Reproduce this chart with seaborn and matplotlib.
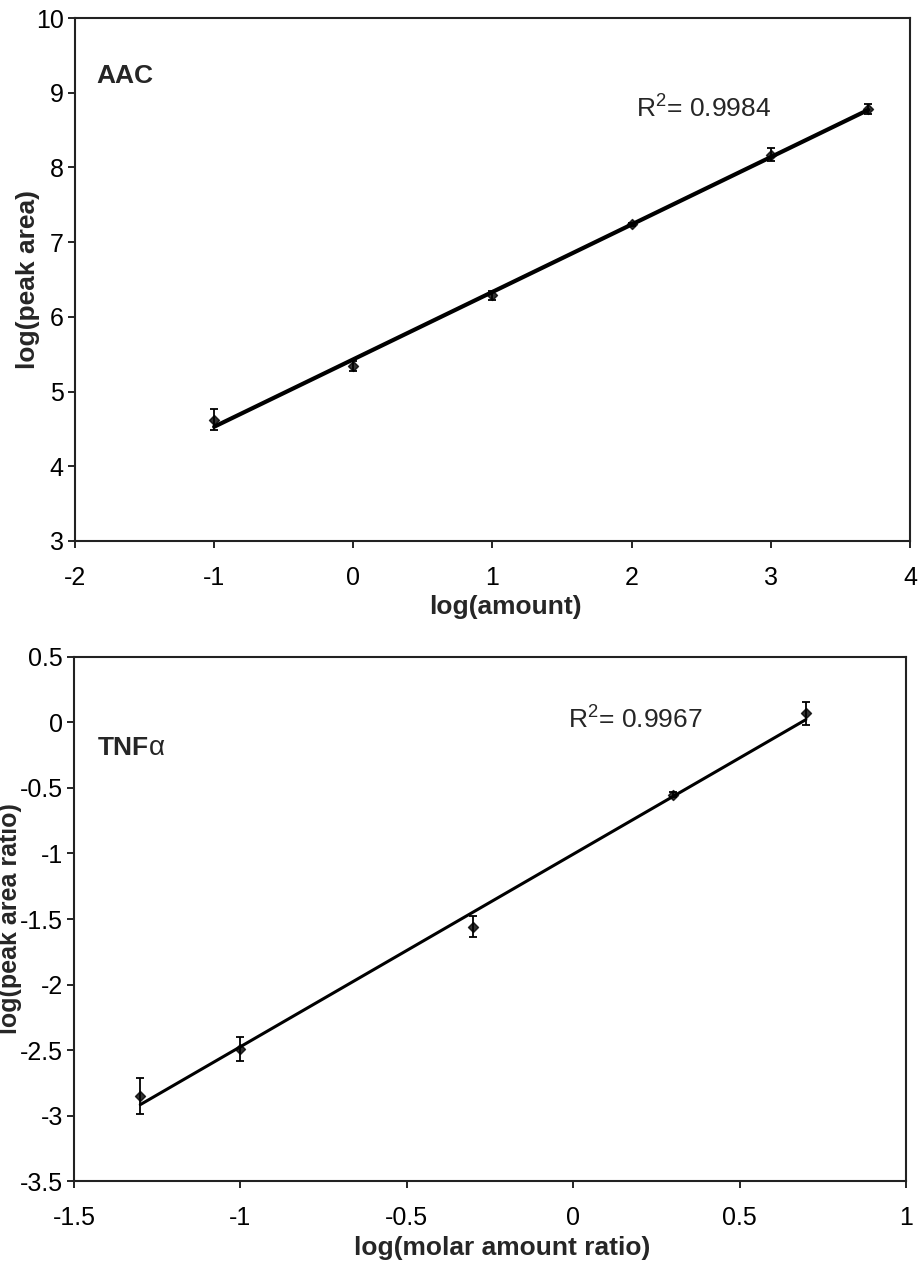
import numpy as np
import pandas as pd
import matplotlib
matplotlib.use("Agg")
import matplotlib.pyplot as plt
import seaborn as sns

# AAC calibration
aac_x = [-1, 0, 1, 2, 3, 3.7]
aac_y = [4.62, 5.34, 6.29, 7.24, 8.17, 8.78]
aac_err = [0.14, 0.07, 0.06, 0.02, 0.09, 0.07]
aac_xticks = [-2, -1, 0, 1, 2, 3, 4]
aac_yticks = [3, 4, 5, 6, 7, 8, 9, 10]

# TNFa calibration
tnf_x = [-1.301, -1.0, -0.301, 0.301, 0.699]
tnf_y = [-2.85, -2.49, -1.56, -0.55, 0.07]
tnf_err = [0.14, 0.09, 0.08, 0.02, 0.09]
tnf_xticks = [-1.5, -1, -0.5, 0, 0.5, 1]
tnf_xlabels = ["-1.5", "-1", "-0.5", "0", "0.5", "1"]
tnf_yticks = [-3.5, -3, -2.5, -2, -1.5, -1, -0.5, 0, 0.5]
tnf_ylabels = ["-3.5", "-3", "-2.5", "-2", "-1.5", "-1", "-0.5", "0", "0.5"]

sns.set_style("ticks")
plt.rcParams['font.family'] = ['Liberation Sans', 'DejaVu Sans']
plt.rcParams['mathtext.fontset'] = 'custom'
plt.rcParams['mathtext.rm'] = 'Liberation Sans'

TICK_FS = 18
LABEL_FS = 19


def draw_panel(ax, x, y, err, lw):
    df = pd.DataFrame({"x": x, "y": y})
    sns.regplot(data=df, x="x", y="y", ax=ax, ci=None, truncate=True,
                marker="D", color="black",
                scatter_kws={"s": 26, "zorder": 4},
                line_kws={"linewidth": lw, "color": "black", "zorder": 3})
    ax.errorbar(x, y, yerr=err, fmt="none", ecolor="black", elinewidth=1.3,
                capsize=3, capthick=1.3, zorder=5)


def style_axes(ax):
    for s in ax.spines.values():
        s.set_visible(True)
        s.set_linewidth(1.5)
        s.set_color("#222222")
    ax.tick_params(axis="both", direction="out", length=5, width=1.2,
                   labelsize=TICK_FS, colors="black")
    ax.tick_params(axis="x", pad=13)
    ax.tick_params(axis="y", pad=3)


fig = plt.figure(figsize=(9.22, 12.69), dpi=100)
ax1 = fig.add_axes([0.0813, 0.5737, 0.9057, 0.4121])
ax2 = fig.add_axes([0.0803, 0.0693, 0.9024, 0.4130])

# top panel
draw_panel(ax1, aac_x, aac_y, aac_err, 3)
ax1.set_xlim(-2, 4)
ax1.set_ylim(3, 10)
ax1.set_xticks(aac_xticks)
ax1.set_xticklabels([str(v) for v in aac_xticks])
ax1.set_yticks(aac_yticks)
ax1.set_yticklabels([str(v) for v in aac_yticks])
style_axes(ax1)
ax1.set_xlabel("log(amount)", fontsize=LABEL_FS, fontweight="bold")
ax1.set_ylabel("log(peak area)", fontsize=LABEL_FS, fontweight="bold")
ax1.xaxis.set_label_coords(0.515, -0.104)
ax1.yaxis.set_label_coords(-0.042, 0.5)
ax1.text(0.026, 0.89, "AAC", transform=ax1.transAxes, fontsize=LABEL_FS,
         fontweight="bold", va="center", ha="left")
ax1.text(0.672, 0.828, "R$^2$= 0.9984", transform=ax1.transAxes,
         fontsize=TICK_FS + 1, va="center", ha="left")

# bottom panel
draw_panel(ax2, tnf_x, tnf_y, tnf_err, 2.2)
ax2.set_xlim(-1.5, 1)
ax2.set_ylim(-3.5, 0.5)
ax2.set_xticks(tnf_xticks)
ax2.set_xticklabels(tnf_xlabels)
ax2.set_yticks(tnf_yticks)
ax2.set_yticklabels(tnf_ylabels)
style_axes(ax2)
ax2.set_xlabel("log(molar amount ratio)", fontsize=LABEL_FS, fontweight="bold")
ax2.set_ylabel("log(peak area ratio)", fontsize=LABEL_FS - 1, fontweight="bold")
ax2.xaxis.set_label_coords(0.515, -0.104)
ax2.yaxis.set_label_coords(-0.0625, 0.5)
t = ax2.text(0.028, 0.826, "TNF", transform=ax2.transAxes, fontsize=LABEL_FS,
             fontweight="bold", va="center", ha="left")
ax2.annotate("α", xy=(1, 0.5), xycoords=t, fontsize=LABEL_FS + 1,
             va="center", ha="left")
ax2.text(0.594, 0.882, "R$^2$= 0.9967", transform=ax2.transAxes,
         fontsize=TICK_FS + 1, va="center", ha="left")

fig.savefig("out.png", dpi=100)
